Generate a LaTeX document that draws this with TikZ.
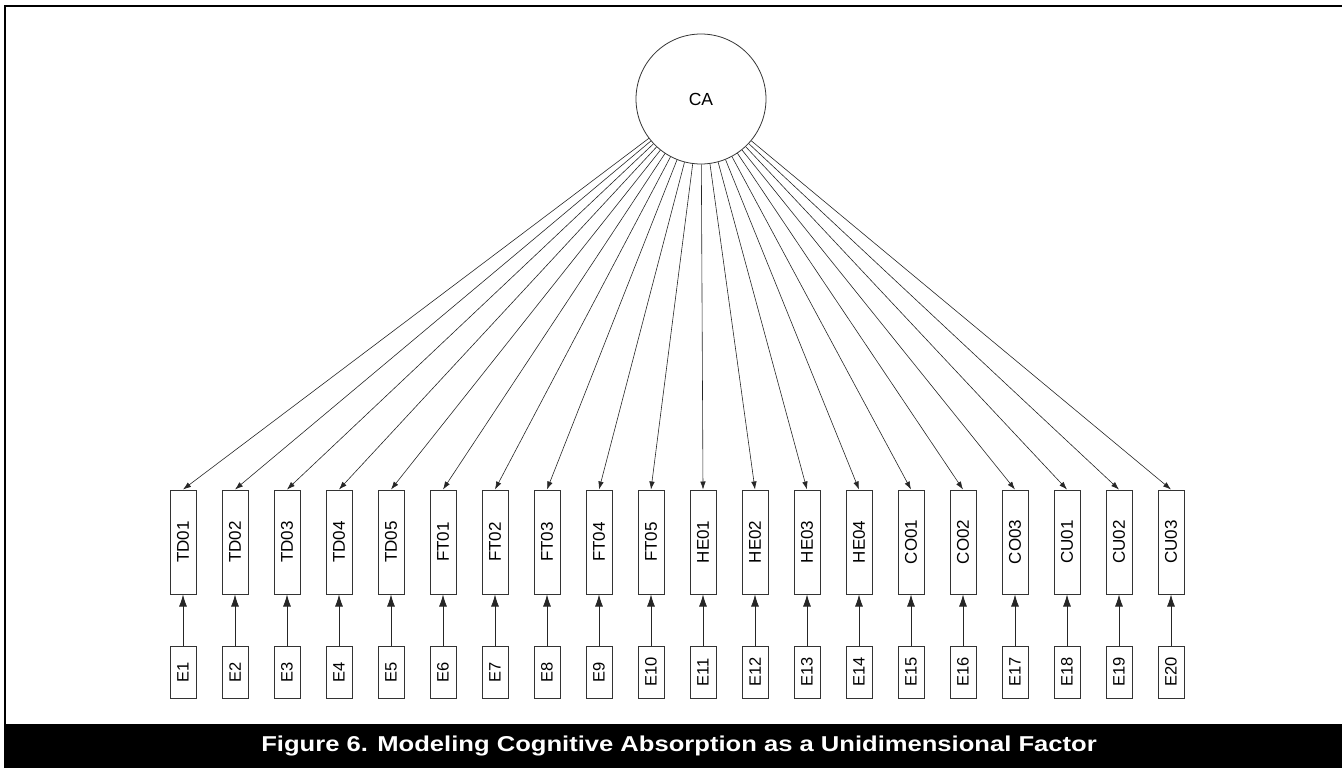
\documentclass[tikz,border=0pt]{standalone}
\usepackage{fontspec}
\setmainfont{Liberation Sans}
\usepackage{graphicx}
\usetikzlibrary{arrows.meta}
\begin{document}
\begin{tikzpicture}[x=1pt,y=-1pt,
  latent/.style={circle,draw=black!80,line width=0.8pt,minimum size=130pt,inner sep=0pt,font=\fontsize{17.5}{19}\selectfont},
  indicator/.style={rectangle,draw=black!80,line width=1pt,minimum width=26pt,minimum height=104pt,inner sep=0pt,font=\fontsize{17}{19}\selectfont},
  errbox/.style={rectangle,draw=black!80,line width=1pt,minimum width=26pt,minimum height=52pt,inner sep=0pt,font=\fontsize{16.5}{18}\selectfont},
  loading/.style={draw=black!85,line width=0.6pt,-{Latex[length=8pt,width=5.5pt]}},
  errpath/.style={draw=black!85,line width=0.8pt,-{Latex[length=12pt,width=8pt]}}]
  \useasboundingbox (0,0) rectangle (1342,768);
  % frame and caption bar
  \draw[line width=2pt] (5,724) -- (5,6) -- (1342,6);
  \fill[black] (4,724) rectangle (1342,768);
  \node[text=white,font=\fontsize{21.5}{24}\selectfont\bfseries] (caption) at (679,746)
    {\scalebox{1.19}[1]{Figure 6. Modeling Cognitive Absorption as a Unidimensional Factor}};
  % latent factor
  \node[latent] (CA) at (701,99) {CA};
  % indicators and their error terms
  \foreach \lab [count=\i] in {TD01,TD02,TD03,TD04,TD05,FT01,FT02,FT03,FT04,FT05,HE01,HE02,HE03,HE04,CO01,CO02,CO03,CU01,CU02,CU03}{
    \pgfmathsetmacro{\xx}{183+(\i-1)*52}
    \node[indicator] (\lab) at (\xx,542) {\rotatebox{90}{\lab}};
    \node[errbox] (E\i) at (\xx,672) {\rotatebox{90}{E\i}};
    \draw[loading] (CA) -- (\lab.north);
    \draw[errpath] (E\i.north) -- (\lab.south);
  }
\end{tikzpicture}
\end{document}
